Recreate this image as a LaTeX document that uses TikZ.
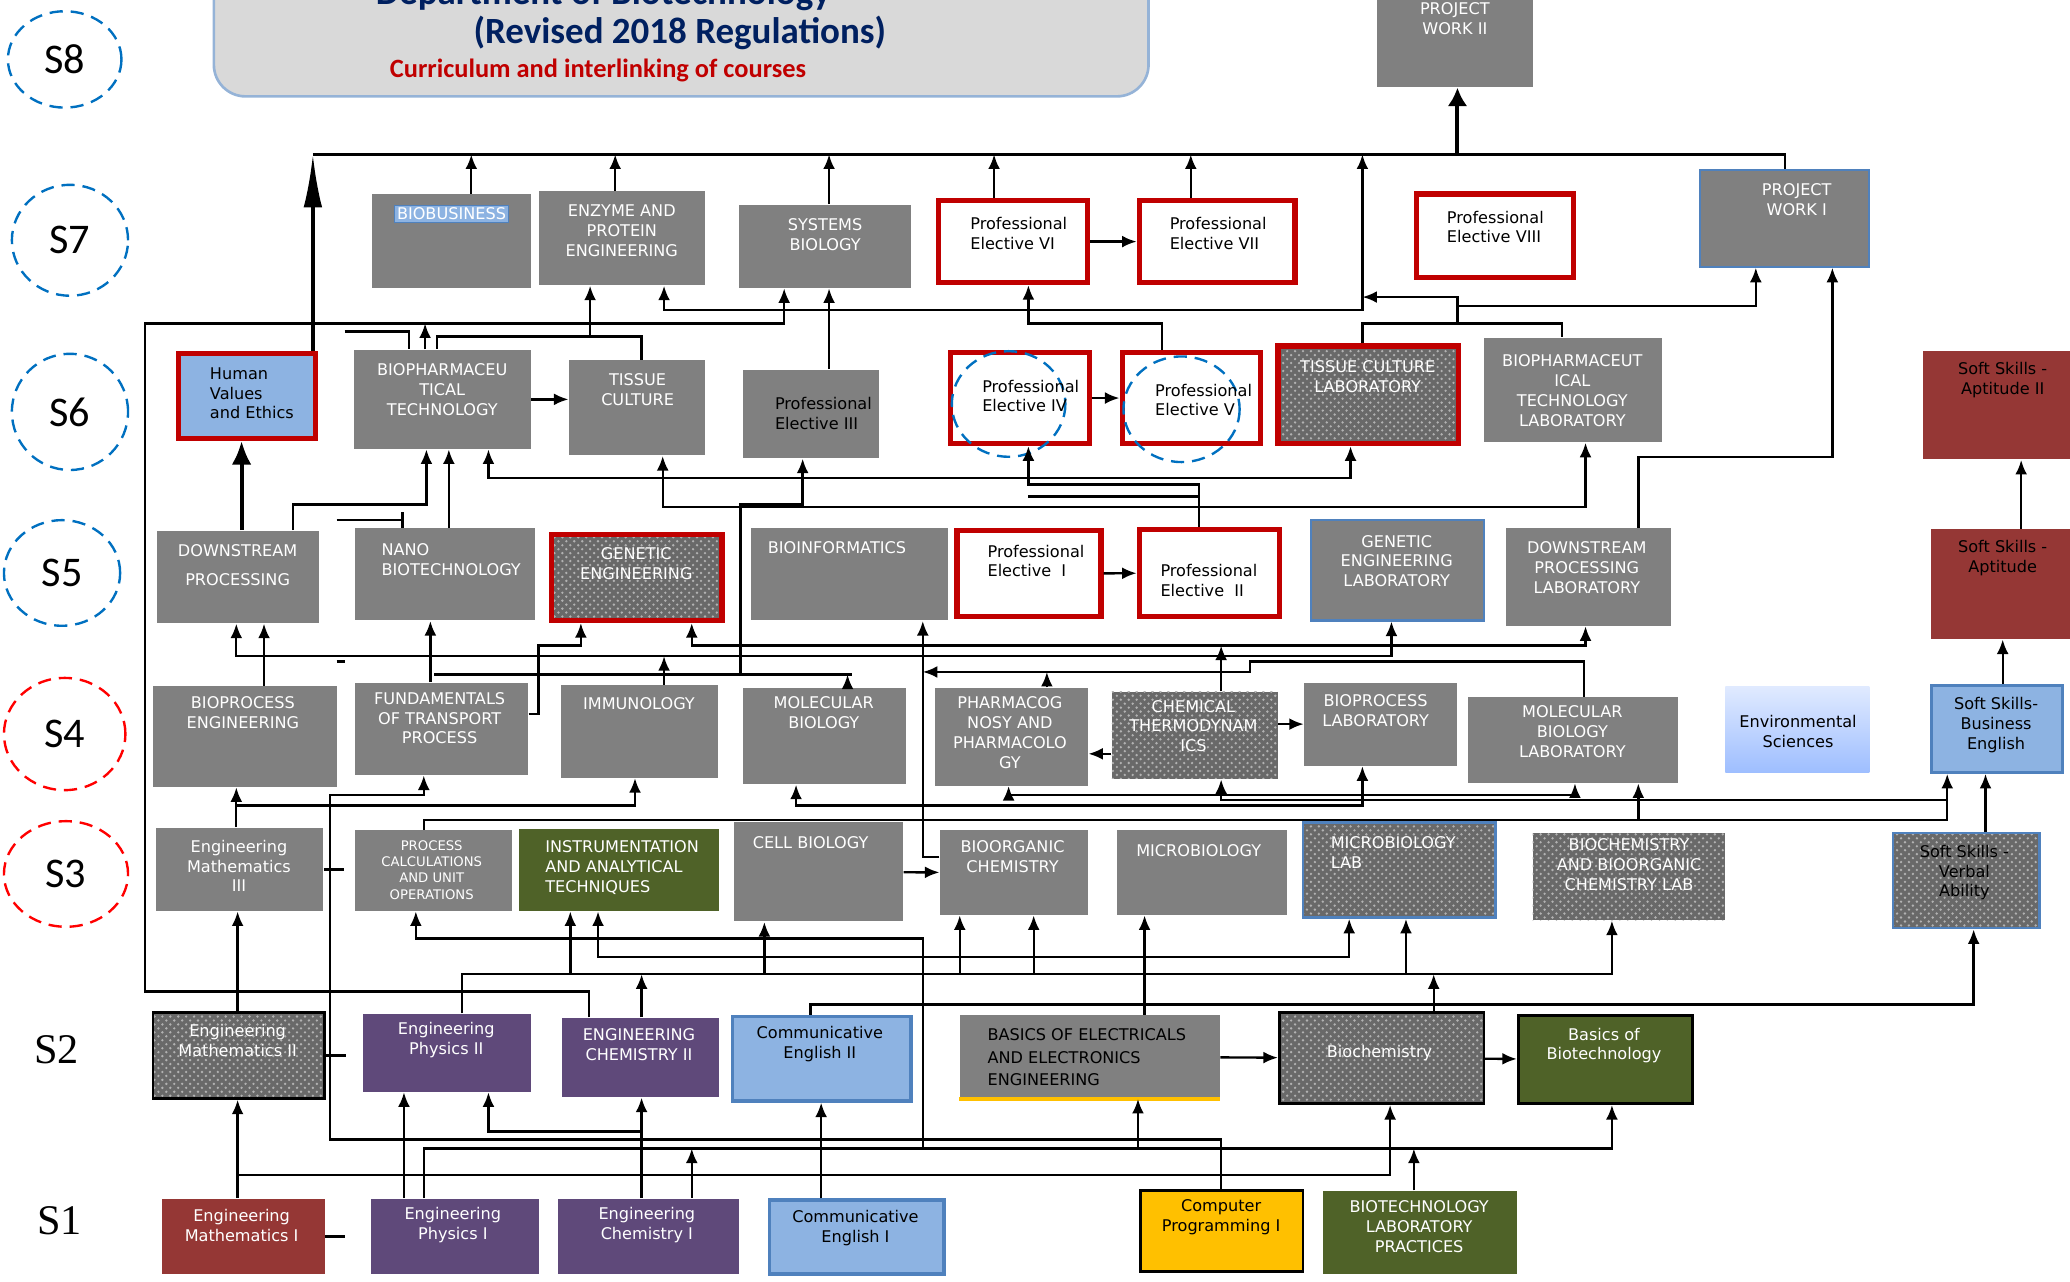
\documentclass[tikz,border=0pt]{standalone}
\usepackage{fontspec}
\setmainfont{DejaVu Sans}
\newfontfamily\titlefont{Carlito}
\newfontfamily\semfont{Liberation Serif}
\usetikzlibrary{arrows.meta,patterns,positioning,shapes.geometric}

\definecolor{boxgrey}{RGB}{128,128,128}
\definecolor{hatchgrey}{RGB}{105,105,105}
\definecolor{redline}{RGB}{192,0,0}
\definecolor{lightblue}{RGB}{141,179,226}
\definecolor{blueline}{RGB}{79,129,189}
\definecolor{purplebox}{RGB}{95,73,122}
\definecolor{darkred}{RGB}{149,55,53}
\definecolor{olive}{RGB}{79,98,40}
\definecolor{gold}{RGB}{255,192,0}
\definecolor{titlegrey}{RGB}{217,217,217}
\definecolor{titleblue}{RGB}{149,179,215}
\definecolor{navy}{RGB}{0,32,96}
\definecolor{semblue}{RGB}{0,112,192}
\definecolor{semred}{RGB}{255,0,0}

\begin{document}
\begin{tikzpicture}[x=0.5pt,y=-0.5pt]
\tikzset{sz/.style 2 args={minimum width=#1*0.5pt,minimum height=#2*0.5pt},
course/.style={rectangle,inner sep=0pt},
greybox/.style={course,fill=boxgrey},
hatchbox/.style={course,preaction={fill=hatchgrey},pattern=crosshatch dots,pattern color=white!70!black},
elective/.style={course,fill=white,draw=redline,line width=2pt},
bluebox/.style={course,fill=lightblue,draw=blueline,line width=1.2pt},
purplecourse/.style={course,fill=purplebox},
redcourse/.style={course,fill=darkred},
olivecourse/.style={course,fill=olive},
semester/.style={ellipse,inner sep=0pt,line width=0.9pt,dash pattern=on 5pt off 3pt,font=\titlefont\fontsize{16}{18}\selectfont},
semlabel/.style={font=\semfont\fontsize{16}{18}\selectfont},
wtext/.style={text=white,align=center,font=\fontsize{6.1}{7.5}\selectfont},
btext/.style={text=black,align=center,font=\fontsize{6.1}{7.5}\selectfont},
wleft/.style={wtext,align=left,anchor=west},
bleft/.style={btext,align=left,anchor=west},
link/.style={line width=0.9pt},
arr/.style={line width=0.9pt,-{Latex[length=5.5pt,width=4.5pt]}},
dblarr/.style={line width=0.9pt,{Latex[length=5.5pt,width=4.5pt]}-{Latex[length=5.5pt,width=4.5pt]}},
bigarr/.style={line width=1.3pt,-{Latex[length=20pt,width=7pt]}},
hvarr/.style={line width=1.5pt,-{Latex[length=9pt,width=7.5pt]}},
toparr/.style={line width=1.5pt,-{Latex[length=7pt,width=7.5pt]}}}

\useasboundingbox (0,0) rectangle (1568,971);

%% Title and semesters
\node (title) [course,fill=titlegrey,draw=titleblue,line width=1pt,rounded corners=12pt,sz={708}{100}] at (516,23) {};
\node (title-a) [text=navy,font=\titlefont\bfseries\fontsize{14}{16}\selectfont] at (457,-4) {Department of Biotechnology};
\node (title-b) [text=navy,font=\titlefont\bfseries\fontsize{14}{16}\selectfont] at (515,25) {(Revised 2018 Regulations)};
\node (title-c) [text=redline,font=\titlefont\bfseries\fontsize{10}{12}\selectfont] at (453,53) {Curriculum and interlinking of courses};

\node (sem8) [semester,draw=semblue,sz={86}{73}] at (49,45) {S8};
\node (sem7) [semester,draw=semblue,sz={88}{84}] at (53,182) {S7};
\node (sem6) [semester,draw=semblue,sz={88}{88}] at (53,312) {S6};
\node (sem5) [semester,draw=semblue,sz={88}{80}] at (47,434) {S5};
\node (sem4) [semester,draw=semred,sz={92}{85}] at (49,556) {S4};
\node (sem3) [semester,draw=semred,sz={94}{80}] at (50,662) {S3};
\node (sem2) [semlabel] at (43,795) {S2};
\node (sem1) [semlabel] at (45,925) {S1};

%% S8 and S7
\node (pw2) [greybox,sz={118}{86}] at (1102,23) {};
\node (bb) [greybox,sz={120}{71}] at (342,182.5) {};
\node (ep) [greybox,sz={126}{71}] at (471,180.5) {};
\node (sb) [greybox,sz={130}{63}] at (625,186.5) {};
\node (pe6) [elective,sz={113}{62}] at (767.5,183) {};
\node (pe7) [elective,sz={118}{62}] at (922,183) {};
\node (pe8) [elective,sz={119}{63}] at (1132.5,178.5) {};
\node (pw1) [greybox,draw=blueline,line width=0.8pt,sz={128}{73}] at (1352,165.5) {};

%% S6
\node (hv) [course,fill=lightblue,draw=redline,line width=2pt,sz={104}{64}] at (187,300) {};
\node (bpt) [greybox,sz={134}{75}] at (335,302.5) {};
\node (tc) [greybox,sz={103}{72}] at (482.5,309) {};
\node (pe3) [greybox,sz={103}{67}] at (614.5,313.5) {};
\node (pe4) [elective,sz={105}{69}] at (772.5,301.5) {};
\node (pe5) [elective,sz={105}{69}] at (902.5,301.5) {};
\node (tcl) [hatchbox,draw=redline,line width=2pt,sz={137}{74}] at (1036.5,299) {};
\node (bptl) [greybox,sz={135}{79}] at (1191.5,295.5) {};
\node (ss2) [redcourse,sz={111}{82}] at (1512.5,307) {};

%% S5
\node (dp) [greybox,sz={123}{70}] at (180.5,437) {};
\node (nb) [greybox,sz={136}{70}] at (337,435) {};
\node (ge) [hatchbox,draw=redline,line width=2pt,sz={129}{65}] at (482.5,437.5) {};
\node (bi) [greybox,sz={149}{70}] at (643.5,435) {};
\node (pe1) [elective,sz={109}{65}] at (779.5,434.5) {};
\node (pe2) [elective,sz={106}{66}] at (916,434) {};
\node (gel) [greybox,draw=blueline,line width=0.8pt,sz={131}{76}] at (1058.5,432) {};
\node (dpl) [greybox,sz={125}{74}] at (1203.5,437) {};
\node (ss1) [redcourse,sz={105}{83}] at (1515.5,442.5) {};

%% S4
\node (bpe) [greybox,sz={139}{76}] at (185.5,558) {};
\node (ftp) [greybox,sz={131}{70}] at (334.5,552) {};
\node (imm) [greybox,sz={119}{70}] at (484.5,554) {};
\node (mb) [greybox,sz={123}{73}] at (624.5,557.5) {};
\node (ph) [greybox,sz={116}{74}] at (766,558) {};
\node (ct) [hatchbox,sz={126}{66}] at (905,557) {};
\node (bpl) [greybox,sz={116}{63}] at (1046,548.5) {};
\node (mbl) [greybox,sz={159}{65}] at (1191.5,560.5) {};
\node (es) [course,top color={rgb,255:red,224;green,234;blue,255},bottom color={rgb,255:red,158;green,190;blue,255},sz={109}{65}] at (1361.5,552.5) {};
\node (sbe) [bluebox,sz={99}{66}] at (1512.5,552) {};

%% S3
\node (em3) [greybox,sz={127}{63}] at (181.5,658.5) {};
\node (pc) [greybox,sz={119}{61}] at (328.5,659.5) {};
\node (iat) [olivecourse,sz={152}{62}] at (469,659) {};
\node (cb) [greybox,sz={128}{75}] at (620,660.5) {};
\node (bo) [greybox,sz={112}{64}] at (768,661) {};
\node (mi) [greybox,sz={129}{64}] at (910.5,661) {};
\node (ml) [hatchbox,draw=blueline,line width=1pt,sz={146}{72}] at (1060,659) {};
\node (bbl) [hatchbox,sz={146}{66}] at (1234,664) {};
\node (sv) [hatchbox,draw=blueline,line width=1pt,sz={111}{72}] at (1489.5,667) {};

%% S2
\node (em2) [hatchbox,draw=black,line width=1pt,sz={130}{65}] at (181,799.5) {};
\node (ep2) [purplecourse,sz={127}{59}] at (338.5,797.5) {};
\node (ec2) [purplecourse,sz={119}{60}] at (485.5,801) {};
\node (ce2) [bluebox,sz={135}{64}] at (622.5,802) {};
\node (beee) [greybox,sz={197}{63}] at (825.5,800.5) {};
\node (bc) [hatchbox,draw=black,line width=1pt,sz={155}{69}] at (1046.5,801.5) {};
\node (bob) [olivecourse,draw=black,line width=1pt,sz={132}{67}] at (1216,802.5) {};
\draw[gold,line width=1.2pt] (beee.south west) -- (beee.south east);

%% S1
\node (em1) [redcourse,sz={123}{57}] at (184.5,936.5) {};
\node (ep1) [purplecourse,sz={127}{57}] at (344.5,936.5) {};
\node (ec1) [purplecourse,sz={137}{57}] at (491.5,936.5) {};
\node (ce1) [bluebox,sz={132}{56}] at (649,937) {};
\node (cp) [course,fill=gold,draw=black,line width=1pt,sz={123}{61}] at (925.5,932.5) {};
\node (blp) [olivecourse,sz={147}{63}] at (1075.5,933.5) {};

%% dashed rings on elective IV and V
\draw[semblue,line width=0.9pt,dash pattern=on 5pt off 3pt] (764,306) ellipse (43 and 40);
\draw[semblue,line width=0.9pt,dash pattern=on 5pt off 3pt] (895,310) ellipse (44 and 40);

%% Labels
\node (bb-t) [fill=lightblue,draw=blueline,text=white,inner sep=1pt,font=\fontsize{6.1}{7.5}\selectfont] at (342,162) {BIOBUSINESS};
\foreach \n/\x/\y/\lab in {pw2/1102/14/{PROJECT\\WORK II}, ep/471/175/{ENZYME AND\\PROTEIN\\ENGINEERING},
  sb/625/178/{SYSTEMS\\BIOLOGY}, pw1/1361/151/{PROJECT\\WORK I}, bpt/335/295/{BIOPHARMACEU\\TICAL\\TECHNOLOGY},
  tc/483/295/{TISSUE\\CULTURE}, tcl/1036/285/{TISSUE CULTURE\\LABORATORY},
  bptl/1191/296/{BIOPHARMACEUT\\ICAL\\TECHNOLOGY\\LABORATORY}, dp/180/428/{DOWNSTREAM\\[3.5pt]PROCESSING},
  ge/482/427/{GENETIC\\ENGINEERING}, bi/634/415/{BIOINFORMATICS}, gel/1058/425/{GENETIC\\ENGINEERING\\LABORATORY},
  dpl/1202/430/{DOWNSTREAM\\PROCESSING\\LABORATORY}, bpe/184/540/{BIOPROCESS\\ENGINEERING},
  ftp/333/544/{FUNDAMENTALS\\OF TRANSPORT\\PROCESS}, imm/484/533/{IMMUNOLOGY}, mb/624/540/{MOLECULAR\\BIOLOGY},
  ph/765/555/{PHARMACOG\\NOSY AND\\PHARMACOLO\\GY}, ct/904/550/{CHEMICAL\\THERMODYNAM\\ICS},
  bpl/1042/538/{BIOPROCESS\\LABORATORY}, mbl/1191/554/{MOLECULAR\\BIOLOGY\\LABORATORY},
  em3/181/656/{Engineering\\Mathematics\\III}, cb/614/638/{CELL BIOLOGY}, bo/767/649/{BIOORGANIC\\CHEMISTRY},
  mi/908/644/{MICROBIOLOGY}, bbl/1234/655/{BIOCHEMISTRY\\AND BIOORGANIC\\CHEMISTRY LAB},
  em2/180/788/{Engineering\\Mathematics II}, ep2/338/788/{Engineering\\Physics II},
  ec2/484/791/{ENGINEERING\\CHEMISTRY II}, bc/1045/798/{Biochemistry}, bob/1215/792/{Basics of\\Biotechnology},
  em1/183/928/{Engineering\\Mathematics I}, ep1/343/928/{Engineering\\Physics I},
  ec1/490/928/{Engineering\\Chemistry I}, blp/1075/929/{BIOTECHNOLOGY\\LABORATORY\\PRACTICES}}
  \node (\n-t) [wtext] at (\x,\y) {\lab};
\foreach \n/\x/\y/\lab in {nb/282/424/{NANO\\BIOTECHNOLOGY}, iat/406/657/{INSTRUMENTATION\\AND ANALYTICAL\\TECHNIQUES},
  ml/1001/646/{MICROBIOLOGY\\LAB}}
  \node (\n-t) [wleft] at (\x,\y) {\lab};
\foreach \n/\x/\y/\lab in {ss2/1517/288/{Soft Skills -\\Aptitude II}, ss1/1517/423/{Soft Skills -\\Aptitude},
  es/1362/554/{Environmental\\Sciences}, sbe/1512/549/{Soft Skills-\\Business\\English},
  sv/1488/661/{Soft Skills -\\Verbal\\Ability}, ce2/621/791/{Communicative\\English II},
  ce1/648/930/{Communicative\\English I}, cp/925/922/{Computer\\Programming I}}
  \node (\n-t) [btext] at (\x,\y) {\lab};
\foreach \n/\x/\y/\lab in {hv/152/298/{Human\\Values\\and Ethics}, pe6/728/177/{Professional\\Elective VI},
  pe7/879/177/{Professional\\Elective VII}, pe8/1089/172/{Professional\\Elective VIII},
  pe4/737/300/{Professional\\Elective IV}, pe5/868/303/{Professional\\Elective V},
  pe1/741/425/{Professional\\Elective\ \ I}, pe2/872/440/{Professional\\Elective\ \ II},
  pe3/580/313/{Professional\\Elective III}, beee/741/801/{BASICS OF ELECTRICALS\\[1pt]AND ELECTRONICS\\[1pt]ENGINEERING}}
  \node (\n-t) [bleft] at (\x,\y) {\lab};
\node (pc-t) [text=white,align=center,font=\fontsize{5}{6.2}\selectfont] at (327,659) {PROCESS\\CALCULATIONS\\AND UNIT\\OPERATIONS};

%% Edges: top bus to project work
\coordinate (bus-w) at (237,117);
\coordinate (bus-e) at (1352,117);
\coordinate (pw2-in) at (1104,117);
\draw[link] (bus-w) -- (bus-e) -- (bus-e |- pw1.north);
\draw[bigarr] (hv.north -| bus-w) -- (bus-w);
\draw[toparr] (pw2-in) -- (pw2-in |- pw2.south);
\foreach \n/\x in {bb/357, ep/466, sb/628, pe6/753, pe7/902} {
  \coordinate (\n-up) at (\x,117);
  \draw[arr] (\n.north -| \n-up) -- (\n-up);
}
\draw[arr] (pe6) -- (pe7);

%% Edges: S6 to S7
\draw[arr] (pe3.north -| sb-up) -- (sb-up |- sb.south);
\coordinate (tc-a) at (486,255);
\coordinate (bpt-a) at (331,255);
\coordinate (ep-a) at (447,255);
\draw[link] (tc.north -| tc-a) -- (tc-a) -- (bpt-a) -- (bpt-a |- bpt.north);
\draw[arr] (ep-a) -- (ep-a |- ep.south);
\coordinate (ep-b) at (503,235);
\coordinate (bus-b) at (1032,235);
\draw[dblarr] (ep.south -| ep-b) -- (ep-b) -- (bus-b) -- (bus-b |- bus-w);
\coordinate (tcl-a) at (1032,245);
\coordinate (bptl-a) at (1183,245);
\coordinate (pw-a) at (1104,225);
\coordinate (pw-b) at (1330,232);
\coordinate (dpl-a) at (1241,346);
\coordinate (pw-c) at (1388,346);
\draw[link] (tcl.north -| tcl-a) -- (tcl-a) -- (bptl-a) -- (bptl-a |- bptl.north);
\draw[arr] (pw-a |- tcl-a) -- (pw-a) -- (pw-a -| bus-b);
\draw[arr] (pw-a |- pw-b) -- (pw-b) -- (pw-b |- pw1.south);
\draw[arr] (dpl.north -| dpl-a) -- (dpl-a) -- (pw-c) -- (pw-c |- pw1.south);
\coordinate (left-a) at (110,245);
\coordinate (sb-a) at (594,245);
\coordinate (left-b) at (110,751);
\coordinate (ec2-a) at (446,751);
\draw[arr] (ec2.north -| ec2-a) -- (ec2-a) -- (left-b) -- (left-a) -- (sb-a) -- (sb-a |- sb.south);
\coordinate (bpt-b) at (322,245);
\draw[arr] (bpt.north -| bpt-b) -- (bpt-b);
\coordinate (stub-a) at (261,251);
\coordinate (stub-b) at (310,251);
\draw[link] (stub-a) -- (stub-b) -- (stub-b |- bpt.north);
\coordinate (pe5-a) at (880,245);
\coordinate (pe6-a) at (779,245);
\draw[arr] (pe5.north -| pe5-a) -- (pe5-a) -- (pe6-a) -- (pe6-a |- pe6.south);
\draw[arr] (pe4) -- (pe5);
\draw[arr] (bpt.east) -- (bpt.east -| tc.west);

%% Edges: S5 to S6
\coordinate (hv-a) at (183,380);
\draw[hvarr] (dp.north -| hv-a) -- (hv-a |- hv.south);
\coordinate (dp-a) at (222,382);
\coordinate (bpt-c) at (323,382);
\draw[arr] (dp.north -| dp-a) -- (dp-a) -- (bpt-c) -- (bpt-c |- bpt.south);
\coordinate (stub-c) at (255,394);
\coordinate (stub-d) at (305,394);
\draw[link] (stub-c) -- (stub-d);
\draw[link] ([yshift=3pt]stub-d) -- ([yshift=-3pt]stub-d);
\coordinate (nb-a) at (340,380);
\draw[arr] (nb.north -| nb-a) -- (nb-a |- bpt.south);
\coordinate (bpt-d) at (370,362);
\coordinate (tcl-b) at (1023,362);
\draw[dblarr] (bpt.south -| bpt-d) -- (bpt-d) -- (tcl-b) -- (tcl-b |- tcl.south);
\coordinate (pe2-a) at (908,367);
\coordinate (pe4-a) at (779,367);
\draw[arr] (pe2.north -| pe2-a) -- (pe2-a) -- (pe4-a) -- (pe4-a |- pe4.south);
\coordinate (stub-e) at (779,376);
\coordinate (stub-f) at (908,376);
\draw[link] (stub-e) -- (stub-f);
\coordinate (tc-b) at (502,384);
\coordinate (bptl-b) at (1201,384);
\draw[dblarr] (tc.south -| tc-b) -- (tc-b) -- (bptl-b) -- (bptl-b |- bptl.south);
\coordinate (ftp-a) at (329,511);
\coordinate (mb-a) at (645,511);
\coordinate (mb-b) at (642,511);
\draw[link] (ftp-a) -- (mb-a);
\draw[arr] (mb.north -| mb-b) -- (mb-b);
\coordinate (bi-a) at (561,511);
\coordinate (bi-b) at (561,382);
\coordinate (pe3-a) at (608,382);
\draw[arr] (bi-a) -- (bi-b) -- (pe3-a) -- (pe3-a |- pe3.south);
\coordinate (nb-b) at (326,500);
\draw[arr] (ftp.north -| nb-b) -- (nb-b |- nb.south);
\draw[arr] (pe1) -- (pe2);
\coordinate (ss-a) at (1531,400);
\draw[arr] (ss1.north -| ss-a) -- (ss-a |- ss2.south);

%% Edges: S4 to S5
\coordinate (dp-b) at (200,500);
\draw[arr] (bpe.north -| dp-b) -- (dp-b |- dp.south);
\coordinate (dp-c) at (179,497);
\coordinate (gel-a) at (1054,497);
\draw[dblarr] (dp.south -| dp-c) -- (dp-c) -- (gel-a) -- (gel-a |- gel.south);
\coordinate (imm-a) at (503,497);
\draw[arr] (imm.north -| imm-a) -- (imm-a);
\coordinate (ge-a) at (524,489);
\coordinate (dpl-b) at (1201,489);
\draw[dblarr] (ge.south -| ge-a) -- (ge-a) -- (dpl-b) -- (dpl-b |- dpl.south);
\coordinate (ct-a) at (925,489);
\draw[arr] (ct.north -| ct-a) -- (ct-a);
\coordinate (ftp-b) at (408,541);
\coordinate (ftp-c) at (408,489);
\coordinate (ge-b) at (440,489);
\draw[arr] (ftp.east |- ftp-b) -- (ftp-b) -- (ftp-c) -- (ge-b) -- (ge-b |- ge.south);
\coordinate (bi-c) at (699,649);
\draw[arr] (bo.west |- bi-c) -- (bi-c) -- (bi-c |- bi.south);
\coordinate (mbl-a) at (1200,501);
\coordinate (mbl-b) at (947,501);
\coordinate (mbl-c) at (947,509);
\draw[arr] (mbl.north -| mbl-a) -- (mbl-a) -- (mbl-b) -- (mbl-c) -- (mbl-c -| bi-c);
\coordinate (ph-a) at (793,509);
\draw[arr] (ph.north -| ph-a) -- (ph-a);
\coordinate (dash-a) at (255,501);
\draw[link] (dash-a) -- ++(6,0);
\coordinate (ss-b) at (1517,500);
\draw[arr] (sbe.north -| ss-b) -- (ss-b |- ss1.south);
\draw[arr] (ct.east |- bpl.west) -- (bpl.west);
\coordinate (ph-b) at (842,571);
\draw[arr] (ct.west |- ph-b) -- (ph.east |- ph-b);

%% Edges: S3 to S4
\coordinate (bpe-a) at (179,610);
\coordinate (imm-b) at (481,610);
\draw[arr] (em3.north -| bpe-a) -- (bpe-a |- bpe.south);
\draw[arr] (bpe-a) -- (imm-b) -- (imm-b |- imm.south);
\coordinate (cp-a) at (925,863);
\coordinate (cp-b) at (250,863);
\coordinate (cp-c) at (250,602);
\coordinate (ftp-d) at (321,602);
\draw[arr] (cp.north -| cp-a) -- (cp-a) -- (cp-b) -- (cp-c) -- (ftp-d) -- (ftp-d |- ftp.south);
\coordinate (mb-c) at (603,610);
\coordinate (bpl-a) at (1032,610);
\draw[dblarr] (mb.south -| mb-c) -- (mb-c) -- (bpl-a) -- (bpl-a |- bpl.south);
\coordinate (ph-c) at (764,602);
\coordinate (mbl-d) at (1193,602);
\draw[dblarr] (ph.south -| ph-c) -- (ph-c) -- (mbl-d) -- (mbl-d |- mbl.south);
\coordinate (ct-b) at (925,606);
\coordinate (sbe-a) at (1475,606);
\draw[dblarr] (ct.south -| ct-b) -- (ct-b) -- (sbe-a) -- (sbe-a |- sbe.south);
\coordinate (pc-a) at (321,621);
\coordinate (sbe-b) at (1475,621);
\draw[link] (pc.north -| pc-a) -- (pc-a) -- (sbe-b) -- (sbe-a);
\coordinate (mbl-e) at (1241,621);
\draw[arr] (mbl-e) -- (mbl-e |- mbl.south);
\coordinate (sv-a) at (1504,620);
\draw[arr] (sv.north -| sv-a) -- (sv-a |- sbe.south);
\draw[arr] (cb) -- (bo);
\foreach \n in {em3, em2, em1} \draw[link] (\n.east) -- ++(15,0);

%% Edges: S2 to S3
\coordinate (em3-a) at (180,740);
\draw[arr] (em2.north -| em3-a) -- (em3-a |- em3.south);
\coordinate (pc-b) at (315,711);
\coordinate (bus2-a) at (699,711);
\coordinate (bus2-b) at (699,870);
\draw[arr] (bus2-b) -- (bus2-a) -- (pc-b) -- (pc-b |- pc.south);
\coordinate (iat-a) at (453,725);
\coordinate (ml-a) at (1022,725);
\draw[dblarr] (iat.south -| iat-a) -- (iat-a) -- (ml-a) -- (ml-a |- ml.south);
\coordinate (ep2-a) at (350,738);
\coordinate (bbl-a) at (1221,738);
\draw[arr] (ep2.north -| ep2-a) -- (ep2-a) -- (bbl-a) -- (bbl-a |- bbl.south);
\foreach \n/\x in {iat/432, cb/579, bo/727, bo/783, ml/1065} {
  \coordinate (\n-\x) at (\x,738);
  \draw[arr] (\n-\x) -- (\n-\x |- \n.south);
}
\coordinate (ec2-b) at (486,738);
\draw[arr] (ec2.north -| ec2-b) -- (ec2-b);
\coordinate (bc-a) at (1086,738);
\draw[arr] (bc.north -| bc-a) -- (bc-a);
\coordinate (mi-a) at (867,740);
\draw[arr] (beee.north -| mi-a) -- (mi-a |- mi.south);
\coordinate (ce2-a) at (614,761);
\coordinate (sv-b) at (1495,761);
\draw[arr] (ce2.north -| ce2-a) -- (ce2-a) -- (sv-b) -- (sv-b |- sv.south);

%% Edges: S1 to S2
\coordinate (em2-a) at (180,890);
\coordinate (bc-b) at (1053,890);
\draw[arr] (em1.north -| em2-a) -- (em2-a |- em2.south);
\draw[arr] (em2-a) -- (bc-b) -- (bc-b |- bc.south);
\coordinate (ep2-b) at (306,880);
\draw[arr] (ep1.north -| ep2-b) -- (ep2-b |- ep2.south);
\coordinate (ep1-a) at (321,870);
\coordinate (bob-a) at (1221,870);
\draw[arr] (ep1.north -| ep1-a) -- (ep1-a) -- (bob-a) -- (bob-a |- bob.south);
\coordinate (beee-a) at (862,870);
\draw[arr] (beee-a) -- (beee-a |- beee.south);
\coordinate (ec1-a) at (524,870);
\draw[arr] (ec1.north -| ec1-a) -- (ec1-a);
\coordinate (blp-a) at (1071,870);
\draw[arr] (blp.north -| blp-a) -- (blp-a);
\coordinate (ec2-c) at (486,857);
\coordinate (ep2-c) at (370,857);
\draw[arr] (ec1.north -| ec2-c) -- (ec2-c |- ec2.south);
\draw[arr] (ec2-c) -- (ep2-c) -- (ep2-c |- ep2.south);
\coordinate (ce2-b) at (622,870);
\draw[arr] (ce1.north -| ce2-b) -- (ce2-b |- ce2.south);
\draw[arr] (beee) -- (bc);
\draw[arr] (bc) -- (bob);

\end{tikzpicture}
\end{document}
